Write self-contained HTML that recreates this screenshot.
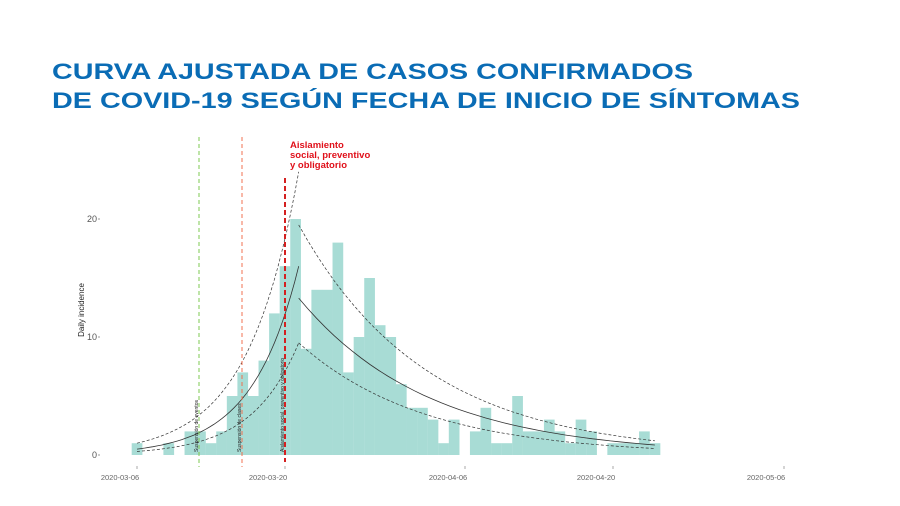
<!DOCTYPE html>
<html><head><meta charset="utf-8"><style>
html,body{margin:0;padding:0;background:#fff;}
svg{display:block;font-family:"Liberation Sans",sans-serif;}
</style></head><body>
<svg id="s" width="900" height="506" viewBox="0 0 900 506" xmlns="http://www.w3.org/2000/svg">
<rect width="900" height="506" fill="#fff"/>
<text x="52" y="79" font-size="22.5" font-weight="bold" fill="#0a6cb5" textLength="641" lengthAdjust="spacingAndGlyphs">CURVA AJUSTADA DE CASOS CONFIRMADOS</text>
<text x="52" y="108" font-size="22.5" font-weight="bold" fill="#0a6cb5" textLength="748" lengthAdjust="spacingAndGlyphs">DE COVID-19 SEGÚN FECHA DE INICIO DE SÍNTOMAS</text>
<g id="bars" fill="#a8dcd5"></g>
<g id="curves" fill="none" stroke="#333"></g>
<line x1="199" y1="137" x2="199" y2="467" stroke="#7ec850" stroke-width="1" stroke-dasharray="4,3"/>
<line x1="242" y1="137" x2="242" y2="467" stroke="#f07050" stroke-width="1" stroke-dasharray="4,3"/>
<line x1="285" y1="178" x2="285" y2="462" stroke="#d42020" stroke-width="2" stroke-dasharray="5,3"/>
<text font-size="5" fill="#222" transform="translate(198,452) rotate(-90)">Suspensión de eventos</text>
<text font-size="5" fill="#222" transform="translate(241,452) rotate(-90)">Suspensión de clases</text>
<text font-size="5" fill="#222" transform="translate(284,452) rotate(-90)">Aislamiento social, preventivo y obligatorio</text>
<text x="290" y="148" font-size="9.5" font-weight="bold" fill="#e0101a">Aislamiento</text>
<text x="290" y="158" font-size="9.5" font-weight="bold" fill="#e0101a">social, preventivo</text>
<text x="290" y="168" font-size="9.5" font-weight="bold" fill="#e0101a">y obligatorio</text>
<g font-size="9" fill="#555" text-anchor="end">
<text x="97" y="222">20</text><text x="97" y="340">10</text><text x="97" y="458">0</text>
</g>
<g stroke="#999"><line x1="98" y1="219" x2="100" y2="219"/><line x1="98" y1="337" x2="100" y2="337"/><line x1="98" y1="455" x2="100" y2="455"/></g>
<text font-size="8" fill="#222" text-anchor="middle" transform="translate(84,310) rotate(-90)">Daily incidence</text>
<g font-size="7.5" fill="#666" text-anchor="middle">
<text x="120" y="480">2020-03-06</text><text x="268" y="480">2020-03-20</text><text x="448" y="480">2020-04-06</text><text x="596" y="480">2020-04-20</text><text x="766" y="480">2020-05-06</text>
</g>
<g stroke="#aaa"><line x1="137" y1="466" x2="137" y2="469"/><line x1="285" y1="466" x2="285" y2="469"/><line x1="465" y1="466" x2="465" y2="469"/><line x1="613" y1="466" x2="613" y2="469"/><line x1="784" y1="466" x2="784" y2="469"/></g>
</svg>
<script>
var d=[1,0,0,1,0,2,2,1,2,5,7,5,8,12,16,20,9,14,14,18,7,10,15,11,10,6,4,4,3,1,3,0,2,4,1,1,5,2,2,3,2,1,3,2,0,1,1,1,2,1];
var NS="http://www.w3.org/2000/svg",b=document.getElementById("bars"),c=document.getElementById("curves");
var X=function(t){return 137+10.57*t},Y=function(v){return 455-11.8*v};
d.forEach(function(v,i){if(!v)return;var r=document.createElementNS(NS,"rect");r.setAttribute("x",X(i)-5.3);r.setAttribute("width",10.7);r.setAttribute("y",Y(v));r.setAttribute("height",11.8*v);b.appendChild(r);});
function seg(t0,v0,t1,v1,dash,w){var p="";for(var k=0;k<=40;k++){var t=t0+(t1-t0)*k/40,v=v0*Math.pow(v1/v0,(t-t0)/(t1-t0));p+=(k?"L":"M")+X(t).toFixed(1)+","+Y(v).toFixed(1);}
var e=document.createElementNS(NS,"path");e.setAttribute("d",p);e.setAttribute("stroke-width",w);if(dash)e.setAttribute("stroke-dasharray",dash);c.appendChild(e);}
seg(0,0.5,15.3,16,null,0.8);seg(0,1,15.3,24,"3,2",0.7);seg(0,0.3,15.3,9.5,"3,2",0.7);
seg(15.3,13.3,49,0.85,null,0.8);seg(15.3,19.5,49,1.2,"3,2",0.7);seg(15.3,9.5,49,0.55,"3,2",0.7);
</script>
</body></html>
